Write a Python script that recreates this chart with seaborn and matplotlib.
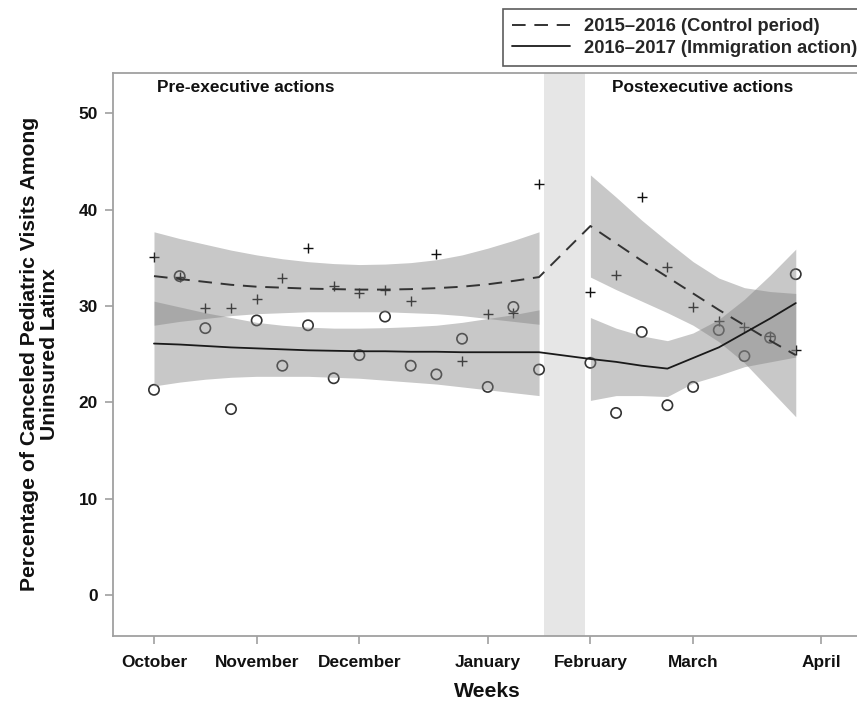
import numpy as np
import pandas as pd
import matplotlib
matplotlib.use("Agg")
import matplotlib.pyplot as plt
from matplotlib.lines import Line2D
import seaborn as sns

# ---------------- data ----------------
weeks_pre = [0, 1, 2, 3, 4, 5, 6, 7, 8, 9, 10, 11, 12, 13, 14, 15]
weeks_post = [17, 18, 19, 20, 21, 22, 23, 24, 25]

control_pts = [35.1, 33.0, 29.8, 29.8, 30.7, 32.9, 36.0, 32.1, 31.3, 31.7, 30.5, 35.4, 24.3, 29.2, 29.3, 42.7,
               31.5, 33.2, 41.3, 34.0, 29.9, 28.4, 27.8, 26.9, 25.4]
action_pts = [21.3, 33.1, 27.7, 19.3, 28.5, 23.8, 28.0, 22.5, 24.9, 28.9, 23.8, 22.9, 26.6, 21.6, 29.9, 23.4,
              24.1, 18.9, 27.3, 19.7, 21.6, 27.5, 24.8, 26.7, 33.3]

control_fit_pre = [33.1, 32.8, 32.5, 32.2, 32.0, 31.9, 31.8, 31.75, 31.7, 31.7, 31.75, 31.85, 32.0, 32.25, 32.6, 33.0]
control_hi_pre = [37.7, 37.0, 36.4, 35.8, 35.3, 34.9, 34.6, 34.4, 34.3, 34.35, 34.5, 34.8, 35.3, 36.0, 36.8, 37.7]
control_lo_pre = [28.0, 28.4, 28.7, 29.0, 29.2, 29.3, 29.4, 29.4, 29.4, 29.4, 29.3, 29.2, 29.0, 28.7, 28.4, 28.1]
control_fit_post = [38.3, 36.5, 34.7, 33.0, 31.3, 29.6, 28.0, 26.4, 24.9]
control_hi_post = [43.6, 41.3, 38.9, 36.7, 34.6, 32.9, 31.9, 31.5, 31.3]
control_lo_post = [33.0, 31.7, 30.5, 29.3, 28.0, 26.3, 24.1, 21.3, 18.5]

action_fit_pre = [26.1, 26.0, 25.85, 25.7, 25.6, 25.5, 25.4, 25.35, 25.3, 25.3, 25.25, 25.25, 25.2, 25.2, 25.2, 25.2]
action_hi_pre = [30.5, 29.9, 29.3, 28.8, 28.3, 28.0, 27.8, 27.7, 27.7, 27.75, 27.85, 28.0, 28.3, 28.7, 29.1, 29.6]
action_lo_pre = [21.7, 22.1, 22.4, 22.6, 22.7, 22.7, 22.7, 22.6, 22.5, 22.3, 22.1, 21.9, 21.6, 21.3, 21.0, 20.7]
action_fit_post = [24.5, 24.2, 23.8, 23.5, 24.6, 25.7, 27.2, 28.7, 30.3]
action_hi_post = [28.8, 27.7, 26.9, 26.4, 27.2, 28.6, 30.7, 33.2, 35.9]
action_lo_post = [20.2, 20.7, 20.7, 20.6, 22.0, 22.8, 23.7, 24.2, 24.7]

month_ticks = [0, 4, 8, 13, 17, 21, 26]
month_labels = ["October", "November", "December", "January", "February", "March", "April"]
y_ticks = [0, 10, 20, 30, 40, 50]
legend_labels = ["2015\u20132016 (Control period)", "2016\u20132017 (Immigration action)"]

# ---------------- styling ----------------
sns.set_theme(style="ticks")
plt.rcParams["font.family"] = ["Liberation Sans", "DejaVu Sans"]
plt.rcParams["font.weight"] = "bold"

fig = plt.figure(figsize=(8.57, 7.01), dpi=100)
ax = fig.add_axes([113.3 / 857, 65.3 / 701, (862 - 113.3) / 857, 562.7 / 701])

weeks_all = weeks_pre + weeks_post
df = pd.DataFrame({
    "week": weeks_all,
    "control": control_pts,
    "action": action_pts,
    "control_fit": control_fit_pre + control_fit_post,
    "action_fit": action_fit_pre + action_fit_post,
})

# transition shading
ax.axvspan(15.19, 16.79, color="#e6e6e6", lw=0, zorder=0.5)

# points (beneath bands)
sns.scatterplot(data=df, x="week", y="control", ax=ax, marker="+", s=60, color="#111111",
                linewidth=1.0, zorder=2, legend=False)
sns.scatterplot(data=df, x="week", y="action", ax=ax, marker="o", s=55, facecolors="none",
                edgecolor="#333333", linewidth=1.2, zorder=2, legend=False)

# confidence bands
band_kw = dict(color="#808080", alpha=0.43, lw=0, zorder=3)
ax.fill_between(weeks_pre, control_lo_pre, control_hi_pre, **band_kw)
ax.fill_between(weeks_post, control_lo_post, control_hi_post, **band_kw)
ax.fill_between(weeks_pre, action_lo_pre, action_hi_pre, **band_kw)
ax.fill_between(weeks_post, action_lo_post, action_hi_post, **band_kw)

# fitted lines
sns.lineplot(data=df, x="week", y="control_fit", ax=ax, color="#333333", lw=1.4, zorder=4,
             estimator=None)
ax.lines[-1].set_dashes([7, 4.5])
sns.lineplot(data=df, x="week", y="action_fit", ax=ax, color="#1a1a1a", lw=1.3, zorder=4,
             estimator=None)

# axes
ax.set_xlim(-1.585, 27.58)
ax.set_ylim(-4.22, 54.18)
ax.set_xticks(month_ticks)
ax.set_xticklabels(month_labels)
ax.set_yticks(y_ticks)
ax.tick_params(axis="both", length=6, width=1.2, color="#a0a0a0", labelsize=12.4,
               labelcolor="#111111")
ax.tick_params(axis="x", pad=8)
ax.tick_params(axis="y", pad=5)
for lab in ax.get_xticklabels() + ax.get_yticklabels():
    lab.set_fontweight("bold")
for side in ["left", "bottom", "top", "right"]:
    ax.spines[side].set_color("#a0a0a0")
    ax.spines[side].set_linewidth(1.3)

ax.set_xlabel("Weeks", fontsize=15.2, fontweight="bold", color="#111111", labelpad=8.5)
ax.set_ylabel("Percentage of Canceled Pediatric Visits Among\nUninsured Latinx", fontsize=15.2,
              fontweight="bold", color="#111111", labelpad=14, linespacing=1.1)

ax.text(0.13, 52.7, "Pre-executive actions", fontsize=12.4, fontweight="bold", ha="left",
        va="center", color="#111111")
ax.text(17.83, 52.7, "Postexecutive actions", fontsize=12.4, fontweight="bold", ha="left",
        va="center", color="#111111")

handles = [Line2D([], [], color="#333333", lw=1.4, dashes=[7, 4.5]),
           Line2D([], [], color="#1a1a1a", lw=1.3)]
leg = fig.legend(handles, legend_labels, loc="upper left", bbox_to_anchor=(503 / 857, 1 - 9 / 701),
                 frameon=True, fancybox=False, borderaxespad=0, borderpad=0.5, labelspacing=0.25,
                 handlelength=3.15, handletextpad=0.75, prop={"size": 13.2, "weight": "bold"})
leg.get_frame().set_edgecolor("#333333")
leg.get_frame().set_linewidth(1.2)

fig.savefig("out.png", dpi=100)
